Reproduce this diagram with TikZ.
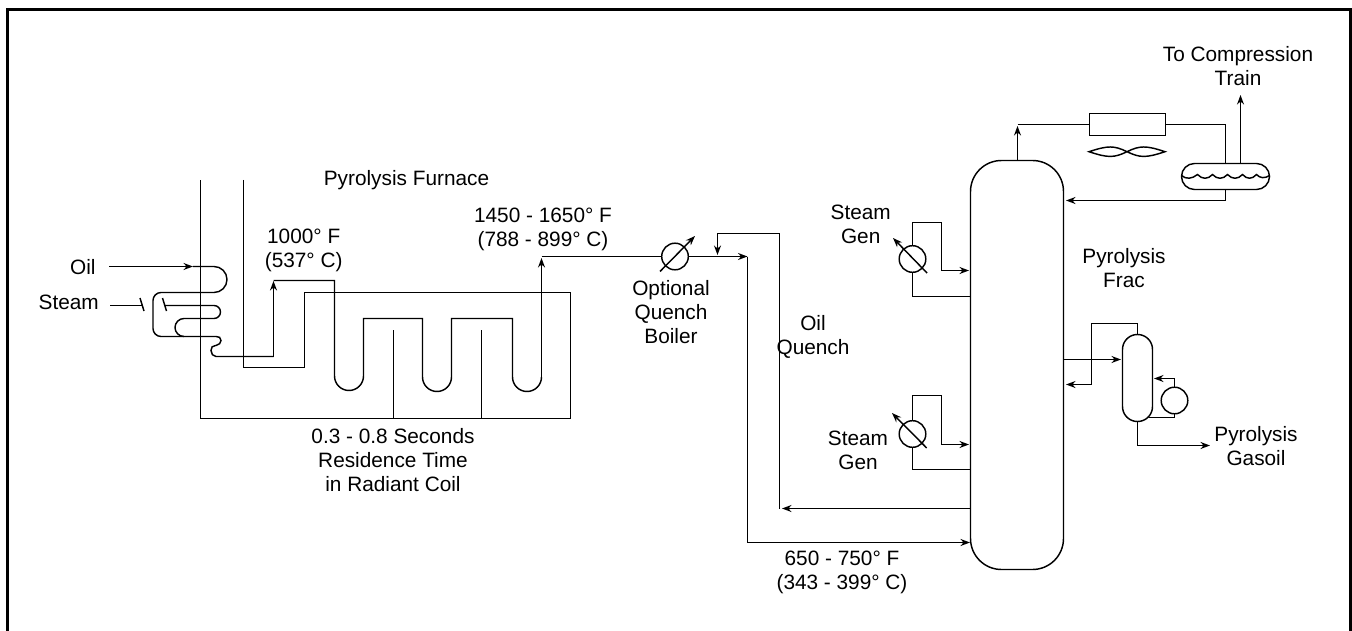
\documentclass[tikz,border=0pt]{standalone}
\usepackage{fontspec}
\setmainfont{Liberation Sans}
\usetikzlibrary{arrows.meta}
\tikzset{
  line/.style={line width=1.45pt,draw=black},
  flow/.style={line,-{Stealth[length=9.5pt,width=7pt]}},
  lbl/.style={align=center,inner sep=0pt,font=\fontsize{20.8}{24}\selectfont},
  exch/.style={circle,line,minimum size=26.6pt,inner sep=0pt,outer sep=0pt},
}
\begin{document}
\begin{tikzpicture}[x=1pt,y=-1pt]
\useasboundingbox (0,0) rectangle (1352,631);
% frame
\draw[line width=3pt,line cap=butt] (7.5,631) -- (7.5,9.5) -- (1350.8,9.5) -- (1350.8,631);

% equipment
\node[line,draw,rectangle,rounded corners=31pt,minimum width=93pt,minimum height=409pt,inner sep=0pt,outer sep=0pt] (column) at (1017,365) {};
\node[line,draw,rectangle,rounded corners=13pt,minimum width=88pt,minimum height=26pt,inner sep=0pt,outer sep=0pt] (drum) at (1225.5,176.5) {};
\node[line,draw,rectangle,rounded corners=14.9pt,minimum width=30pt,minimum height=87pt,inner sep=0pt,outer sep=0pt] (stripper) at (1137.5,378) {};
\node[line,draw,rectangle,minimum width=76pt,minimum height=22pt,inner sep=0pt,outer sep=0pt] (cooler) at (1127.5,124.5) {};
\node[exch,draw] (boiler) at (675,256.5) {};
\node[exch,draw] (sgone) at (912.5,259) {};
\node[exch,draw] (sgtwo) at (912.5,434) {};
\node[exch,draw] (reb) at (1174.5,400.5) {};

% named end points
\coordinate (oilin) at (109,266.5);
\coordinate (oilend) at (193,266.5);
\coordinate (steamin) at (110,305.5);
\coordinate (tickone) at (142,305.5);
\coordinate (ticktwo) at (165,305.5);
\coordinate (coilout) at (273.5,281);
\coordinate (xover) at (541.5,258);
\coordinate (xoverb) at (541.5,256.5);
\coordinate (junction) at (747.5,256.5);
\coordinate (mix) at (717.5,255);
\coordinate (oqtop) at (779.5,233.5);
\coordinate (oqbot) at (779.5,508.5);
\coordinate (feed) at (970,542.5);
\coordinate (oqdraw) at (970,508.5);
\coordinate (ohtip) at (1017.5,126);
\coordinate (oh) at (1017.5,124.5);
\coordinate (gasout) at (1240.5,95);

% furnace walls
\draw[line] (243.5,180) -- (243.5,367.5) -- (304.5,367.5) -- (304.5,292.5) -- (570.5,292.5) -- (570.5,418.5) -- (200.5,418.5) -- (200.5,180);
\draw[line] (393.5,330) -- (393.5,418);
\draw[line] (481.5,330) -- (481.5,418);

% convection coil
\draw[flow] (oilin) -- (oilend);
\draw[line] (oilend) -- (214,266.5) arc[start angle=90,end angle=-90,radius=13pt]
   -- (161,292.5) arc[start angle=90,end angle=180,radius=8pt]
   -- (153,328.5) arc[start angle=180,end angle=270,radius=8pt]
   -- (216,336.5) .. controls (219,336.5) and (221,337.5) .. (221,340.5) .. controls (221,343) and (219,345) .. (216,345.5)
   -- (215.5,345.5) .. controls (212.5,345.5) and (211,347.5) .. (211,350.5) .. controls (211,353.5) and (213,356.5) .. (216,356.5) -- (273.5,356.5);
\draw[flow] (273.5,356.5) -- (coilout);
\draw[line] (steamin) -- (tickone);
\draw[line] (140,298) -- (144,311);
\draw[line] (162.5,298) -- (166.5,311);
\draw[line] (ticktwo) -- (214,305.5) arc[start angle=90,end angle=-90,radius=6.5pt]
   -- (184,318.5) arc[start angle=90,end angle=270,radius=9pt];

% radiant coil
\draw[line] (coilout |- 0,280.5) -- (334.5,280.5) -- (334.5,376) arc[start angle=180,end angle=360,radius=14.5pt]
   -- (363.5,318.5) -- (422.5,318.5) -- (422.5,377) arc[start angle=180,end angle=360,radius=14.5pt]
   -- (451.5,318.5) -- (512.5,318.5) -- (512.5,377) arc[start angle=180,end angle=360,radius=14.5pt]
   -- (541.5,377);
\draw[flow] (541.5,377) -- (xover);

% transfer line
\draw[line] (xoverb) -- (boiler.west |- xoverb);
\draw[flow] (boiler.east) -- (junction);
\draw[flow] (660,271.5) -- (695,236);
\draw[line] (junction) -- (747.5,542.5);
\draw[flow] (747.5,542.5) -- (feed);
\draw[flow] (oqtop) -- (717.5,233.5) -- (mix);
\draw[line] (oqtop) -- (oqbot);
\draw[flow] (oqdraw) -- (oqbot -| 782,0);

% steam generators
\draw[flow] (sgone.north) -- (912.5,222.5) -- (941.5,222.5) -- (941.5,270.5) -- (969,270.5);
\draw[line] (sgone.south) -- (912.5,296.5) -- (970,296.5);
\draw[flow] (927,273) -- (893,238);
\draw[flow] (sgtwo.north) -- (912.5,395.5) -- (941.5,395.5) -- (941.5,444.5) -- (969,444.5);
\draw[line] (sgtwo.south) -- (912.5,469.5) -- (970,469.5);
\draw[flow] (926.7,448) -- (892,413);

% overhead
\draw[flow] (1017.5,160.5) -- (ohtip);
\draw[line] (oh) -- (cooler.west |- oh);
\draw[line] (cooler.east |- oh) -- (1225.5,124.5) -- (drum.north);
\draw[flow] (1240.5,163.5) -- (gasout);
\draw[flow] (drum.south) -- (1225.5,200.5) -- (1066,200.5);
\draw[line] (1089,151.7) .. controls (1108,145.4) and (1114,145.4) .. (1127,151.7) .. controls (1140,158) and (1146,158) .. (1165,151.7)
  .. controls (1146,145.4) and (1140,145.4) .. (1127,151.7) .. controls (1114,158) and (1108,158) .. (1089,151.7) -- cycle;
\draw[line] (1181.5,175.5) .. controls (1186,179.5) and (1192,179) .. (1197.5,174.5)
  .. controls (1202,179.5) and (1208,179.5) .. (1212.5,174.5)
  .. controls (1217,179.5) and (1223,179.5) .. (1227.5,174.5)
  .. controls (1232,179.5) and (1238,179.5) .. (1242.5,174.5)
  .. controls (1247,179.5) and (1252,179.5) .. (1256.5,174.5)
  .. controls (1260,178.5) and (1265,178.5) .. (1269.5,175.5);

% side stripper
\draw[flow] (1063.5,359.5) -- (1121,359.5);
\draw[flow] (stripper.north) -- (1137.5,323.5) -- (1091.5,323.5) -- (1091.5,384.5) -- (1066,384.5);
\draw[flow] (reb.north) -- (1174.5,378.5) -- (1154,378.5);
\draw[line] (reb.south) -- (1174.5,417.5) -- (1149,417.5);
\draw[flow] (stripper.south) -- (1137.5,445.5) -- (1210,445.5);

% labels
\node[lbl] (t1) at (1238,66) {To Compression\\Train};
\node[lbl] (t2) at (406.5,180.5) {Pyrolysis Furnace};
\node[lbl] (t3) at (303.7,250) {1000° F\\(537° C)};
\node[lbl] (t4) at (543,229) {1450 - 1650° F\\(788 - 899° C)};
\node[lbl,anchor=east] (t5) at (95.7,267.5) {Oil};
\node[lbl,anchor=east] (t6) at (99,302.5) {Steam};
\node[lbl] (t7) at (671,312) {Optional\\Quench\\Boiler};
\node[lbl] (t8) at (813,337) {Oil\\Quench};
\node[lbl] (t9) at (860.7,224) {Steam\\Gen};
\node[lbl] (t10) at (858,450.5) {Steam\\Gen};
\node[lbl] (t11) at (1124,268) {Pyrolysis\\Frac};
\node[lbl] (t12) at (1256,446) {Pyrolysis\\Gasoil};
\node[lbl] (t13) at (393,460) {0.3 - 0.8 Seconds\\Residence Time\\in Radiant Coil};
\node[lbl] (t14) at (842,572) {650 - 750° F\\(343 - 399° C)};
\end{tikzpicture}
\end{document}
